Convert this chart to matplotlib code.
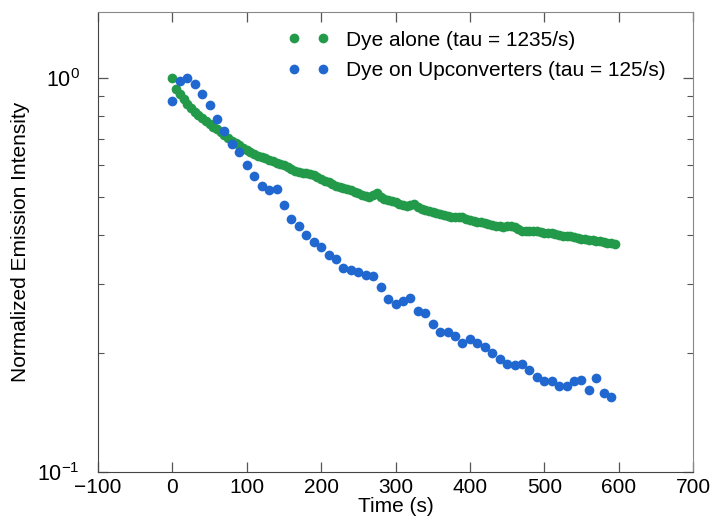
import numpy as np
import matplotlib
matplotlib.use("Agg")
import matplotlib.pyplot as plt
from matplotlib.ticker import LogLocator, NullFormatter

plt.rcParams["font.family"] = ["Liberation Sans", "DejaVu Sans"]
plt.rcParams["mathtext.fontset"] = "custom"
plt.rcParams["mathtext.rm"] = "Liberation Sans"
plt.rcParams["mathtext.it"] = "Liberation Sans"

# dye alone, sampled every 5 s
t_green = np.arange(0, 600, 5)
v_green = [
    1.000, 0.940, 0.910, 0.885, 0.860, 0.840, 0.820, 0.805, 0.790, 0.777,
    0.765, 0.752, 0.740, 0.728, 0.715, 0.703, 0.692, 0.683, 0.674, 0.665,
    0.657, 0.649, 0.642, 0.635, 0.630, 0.625, 0.620, 0.615, 0.610, 0.605,
    0.600, 0.594, 0.587, 0.580, 0.577, 0.575, 0.573, 0.570, 0.566, 0.560,
    0.553, 0.547, 0.543, 0.538, 0.533, 0.530, 0.527, 0.524, 0.519, 0.514,
    0.510, 0.506, 0.501, 0.499, 0.506, 0.510, 0.500, 0.493, 0.490, 0.486,
    0.483, 0.480, 0.476, 0.473, 0.476, 0.480, 0.470, 0.464, 0.462, 0.460,
    0.458, 0.455, 0.452, 0.449, 0.446, 0.444, 0.444, 0.444, 0.443, 0.439,
    0.436, 0.434, 0.432, 0.431, 0.429, 0.427, 0.424, 0.422, 0.420, 0.419,
    0.420, 0.420, 0.418, 0.414, 0.410, 0.409, 0.410, 0.410, 0.409, 0.407,
    0.405, 0.404, 0.403, 0.401, 0.399, 0.398, 0.397, 0.396, 0.395, 0.393,
    0.391, 0.390, 0.389, 0.387, 0.386, 0.385, 0.384, 0.382, 0.381, 0.380,
]

# dye on upconverters, sampled every 10 s
t_blue = np.arange(0, 600, 10)
v_blue = [
    0.872, 0.984, 1.000, 0.967, 0.911, 0.852, 0.788, 0.732, 0.681, 0.649,
    0.600, 0.563, 0.533, 0.521, 0.524, 0.475, 0.439, 0.421, 0.400, 0.384,
    0.372, 0.356, 0.348, 0.329, 0.325, 0.322, 0.317, 0.314, 0.295, 0.275,
    0.267, 0.272, 0.277, 0.256, 0.253, 0.237, 0.227, 0.227, 0.222, 0.213,
    0.218, 0.212, 0.208, 0.200, 0.194, 0.188, 0.187, 0.188, 0.182, 0.174,
    0.170, 0.170, 0.165, 0.165, 0.170, 0.171, 0.161, 0.173, 0.159, 0.155,
]

labels = ["Dye alone (tau = 1235/s)", "Dye on Upconverters (tau = 125/s)"]
GREEN = "#229a4a"
BLUE = "#2068d0"

fig = plt.figure(figsize=(7.14, 5.22), dpi=100)
ax = fig.add_axes([0.1373, 0.0958, 0.8333, 0.8812])

ax.plot(t_green, v_green, "o", color=GREEN, ms=7, mew=0, label=labels[0])
ax.plot(t_blue, v_blue, "o", color=BLUE, ms=7, mew=0, label=labels[1])

ax.set_yscale("log")
ax.set_xlim(-100, 700)
ax.set_ylim(0.1, 1.47)
ax.set_xticks(range(-100, 701, 100))
ax.yaxis.set_major_locator(LogLocator(base=10))
ax.yaxis.set_minor_locator(LogLocator(base=10, subs=np.arange(2, 10)))
ax.yaxis.set_minor_formatter(NullFormatter())

ax.tick_params(which="both", direction="in", top=True, right=True,
               labelsize=15, color="#555555")
ax.tick_params(which="major", length=7, width=0.9)
ax.tick_params(which="minor", length=4, width=0.8)
ax.tick_params(axis="x", pad=4)
ax.tick_params(axis="y", pad=13, labelsize=15.5)

for side in ["left", "bottom"]:
    ax.spines[side].set_color("#444444")
for side in ["top", "right"]:
    ax.spines[side].set_color("#888888")

ax.set_xlabel("Time (s)", fontsize=15, labelpad=0)
ax.set_ylabel("Normalized Emission Intensity", fontsize=15, labelpad=5)

ax.legend(loc="upper right", numpoints=2, frameon=False, fontsize=15,
          handlelength=2.0, handletextpad=0.8, labelspacing=0.55,
          bbox_to_anchor=(0.985, 1.0))

fig.savefig("out.png", dpi=100)
